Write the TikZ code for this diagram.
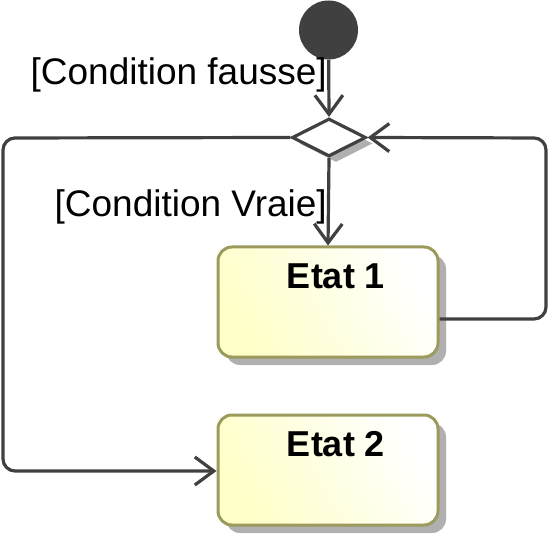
\documentclass[tikz,border=0pt]{standalone}
\usepackage{fontspec}
\setmainfont{Liberation Sans}
\usetikzlibrary{shapes.geometric,arrows.meta,shadows}
\definecolor{linegray}{HTML}{404040}
\definecolor{boxborder}{HTML}{9C9A5C}
\definecolor{boxfill}{HTML}{FFFFC8}
\definecolor{shadowgray}{HTML}{B0B0B0}
\tikzset{
  conn/.style={draw=linegray, line width=3.2pt, rounded corners=12pt,
    -{Straight Barb[length=19pt,width=28pt,line width=3.2pt]}},
  statebox/.style={rectangle, rounded corners=14pt, draw=boxborder, line width=3pt,
    left color=boxfill, right color=white, shading angle=120,
    minimum width=220pt, minimum height=110pt, inner sep=0pt,
    general shadow={fill=shadowgray, shadow xshift=8pt, shadow yshift=-8pt}},
  statelabel/.style={anchor=base, inner sep=0pt, font=\fontsize{36}{42}\selectfont\bfseries},
  guard/.style={anchor=base east, inner sep=0pt, font=\fontsize{37}{44}\selectfont},
  decision/.style={diamond, draw=linegray, line width=3.2pt, fill=white,
    minimum width=74pt, minimum height=38pt, inner sep=0pt,
    general shadow={fill=shadowgray, shadow xshift=7pt, shadow yshift=-6pt}},
  initial/.style={circle, fill=linegray, minimum size=59pt, inner sep=0pt},
}
\begin{document}
\begin{tikzpicture}[x=1pt,y=-1pt]
\useasboundingbox (0,0) rectangle (548,534);
\node[initial] (init) at (328.5,30) {};
\node[decision] (dec) at (329,137.5) {};
\node[statebox] (e1) at (328,302) {};
\node[statebox] (e2) at (328,470) {};
\node[statelabel] (e1t) at (336,288) {Etat 1};
\node[statelabel] (e2t) at (336,456) {Etat 2};
\node[guard] (gf) at (327,85) {[Condition fausse]};
\node[guard] (gv) at (327,217) {[Condition Vraie]};
\coordinate (r1) at (546,319);
\coordinate (r2) at (546,138);
\coordinate (l1) at (3,138);
\coordinate (l2) at (3,471);
\draw[conn] (init) -- (dec.north);
\draw[conn] (dec.south) -- (e1.north);
\draw[conn] (e1.east |- r1) -- (r1) -- (r2) -- (dec.east);
\draw[conn] (dec.west) -- (l1) -- (l2) -- (e2.west |- l2);
\end{tikzpicture}
\end{document}
